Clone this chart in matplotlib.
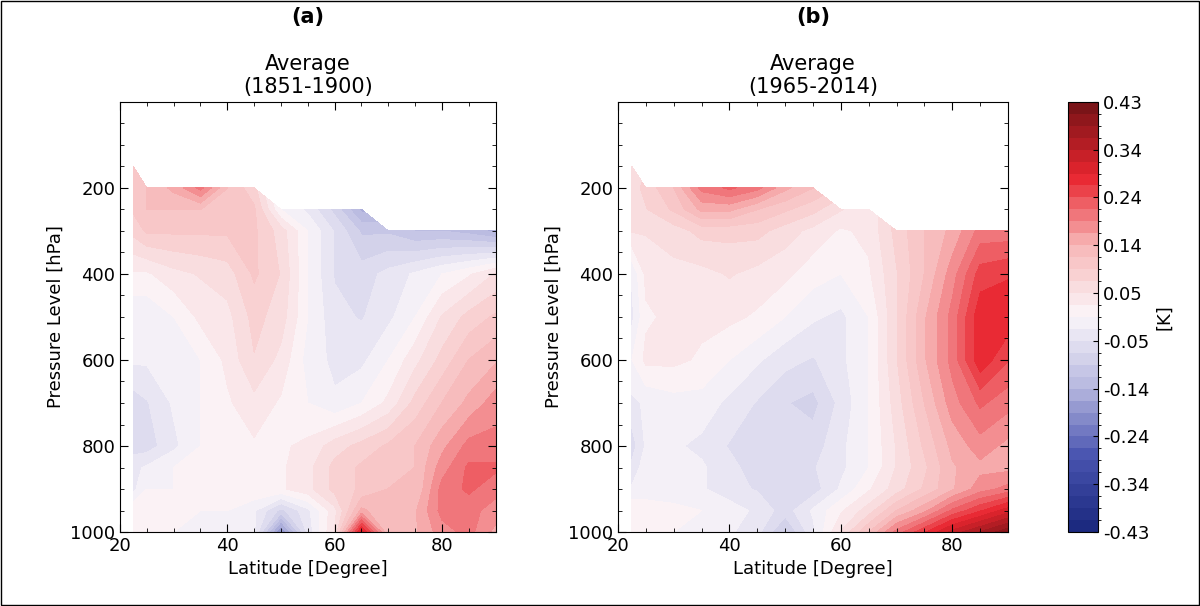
import numpy as np
import matplotlib.pyplot as plt
from matplotlib.colors import LinearSegmentedColormap, BoundaryNorm
from matplotlib.patches import Rectangle

nan = np.nan
lats = [22.5, 25, 30, 35, 40, 45, 50, 55, 60, 65, 70, 75, 80, 85, 90]
levels_p = [1000, 950, 900, 850, 800, 700, 600, 500, 400, 300, 250, 200, 150]

# panel (a) 1851-1900, rows follow levels_p
avg_a = [
    [0.0, 0.0, 0.0, -0.02, 0.0, -0.02, -0.2, -0.04, 0.05, 0.3, 0.12, 0.14, 0.18, 0.2, 0.16],
    [0.02, 0.02, 0.02, 0.0, 0.0, -0.02, -0.08, -0.03, 0.04, 0.15, 0.12, 0.14, 0.2, 0.2, 0.18],
    [-0.03, 0.0, 0.0, 0.02, 0.02, 0.02, 0.02, 0.04, 0.08, 0.1, 0.12, 0.12, 0.2, 0.22, 0.2],
    [-0.03, -0.02, 0.0, 0.02, 0.02, 0.02, 0.02, 0.04, 0.08, 0.1, 0.1, 0.12, 0.18, 0.22, 0.22],
    [-0.06, -0.06, -0.03, 0.0, 0.02, 0.02, 0.02, 0.03, 0.06, 0.08, 0.1, 0.12, 0.16, 0.2, 0.2],
    [-0.06, -0.05, -0.02, 0.0, 0.02, 0.04, 0.02, 0.0, -0.02, 0.0, 0.03, 0.08, 0.12, 0.15, 0.18],
    [-0.02, -0.02, -0.02, 0.0, 0.03, 0.07, 0.04, -0.01, -0.03, -0.03, 0.0, 0.04, 0.08, 0.12, 0.14],
    [-0.02, -0.02, 0.0, 0.03, 0.04, 0.08, 0.06, 0.0, -0.04, -0.05, -0.03, 0.0, 0.05, 0.08, 0.1],
    [0.02, 0.02, 0.04, 0.05, 0.06, 0.1, 0.07, 0.0, -0.05, -0.06, -0.04, -0.02, 0.0, 0.02, 0.05],
    [0.08, 0.1, 0.1, 0.1, 0.1, 0.1, 0.06, 0.0, -0.05, -0.1, -0.1, -0.12, -0.12, -0.13, -0.15],
    [0.1, 0.12, 0.12, 0.12, 0.1, 0.1, 0.0, -0.03, -0.08, -0.15, nan, nan, nan, nan, nan],
    [0.1, 0.12, 0.15, 0.2, 0.12, 0.08, nan, nan, nan, nan, nan, nan, nan, nan, nan],
    [0.1, nan, nan, nan, nan, nan, nan, nan, nan, nan, nan, nan, nan, nan, nan],
]

# panel (b) 1965-2014
avg_b = [
    [0.0, 0.0, 0.0, -0.02, -0.02, -0.04, -0.1, -0.03, 0.05, 0.12, 0.2, 0.26, 0.32, 0.36, 0.4],
    [0.02, 0.02, 0.01, 0.0, -0.01, -0.03, -0.06, -0.02, 0.02, 0.06, 0.12, 0.16, 0.22, 0.26, 0.3],
    [-0.02, -0.02, -0.02, -0.02, -0.04, -0.05, -0.05, -0.06, -0.02, 0.02, 0.06, 0.1, 0.14, 0.18, 0.2],
    [-0.04, -0.01, -0.01, -0.02, -0.04, -0.06, -0.06, -0.05, -0.03, 0.0, 0.05, 0.09, 0.14, 0.16, 0.16],
    [-0.06, -0.02, -0.02, -0.03, -0.05, -0.06, -0.07, -0.06, -0.03, 0.0, 0.05, 0.1, 0.15, 0.18, 0.16],
    [-0.03, -0.02, -0.01, -0.01, -0.03, -0.05, -0.07, -0.08, -0.04, 0.0, 0.06, 0.12, 0.18, 0.22, 0.2],
    [0.0, 0.03, 0.03, 0.02, 0.0, -0.02, -0.04, -0.05, -0.03, 0.0, 0.07, 0.14, 0.2, 0.28, 0.24],
    [-0.03, 0.02, 0.03, 0.03, 0.03, 0.02, 0.0, -0.02, -0.03, 0.0, 0.07, 0.14, 0.2, 0.28, 0.28],
    [-0.02, 0.03, 0.04, 0.04, 0.05, 0.04, 0.03, 0.01, 0.0, 0.02, 0.07, 0.12, 0.18, 0.25, 0.26],
    [0.05, 0.05, 0.06, 0.08, 0.08, 0.08, 0.06, 0.04, 0.02, 0.03, 0.08, 0.12, 0.15, 0.2, 0.2],
    [0.06, 0.07, 0.1, 0.15, 0.15, 0.12, 0.1, 0.08, 0.05, 0.03, nan, nan, nan, nan, nan],
    [0.06, 0.08, 0.12, 0.2, 0.22, 0.2, 0.15, 0.12, nan, nan, nan, nan, nan, nan, nan],
    [0.05, nan, nan, nan, nan, nan, nan, nan, nan, nan, nan, nan, nan, nan, nan],
]

cbar_labels = ['-0.43', '-0.34', '-0.24', '-0.14', '-0.05', '0.05', '0.14', '0.24', '0.34', '0.43']

cmap = LinearSegmentedColormap.from_list(
    'bwr2', ['#1c2a80', '#4a55b0', '#b8b9e0', '#fbf7fa', '#f7b8b8', '#e8252f', '#7a1418'])
bounds = np.linspace(-0.43, 0.43, 37)
norm = BoundaryNorm(bounds, cmap.N)

fig = plt.figure(figsize=(12, 6.06), dpi=100)
ax1 = fig.add_axes([0.100, 0.122, 0.313, 0.710])
ax2 = fig.add_axes([0.515, 0.122, 0.325, 0.710])
cax = fig.add_axes([0.890, 0.122, 0.025, 0.710])

for ax, data, lab, period in [(ax1, avg_a, '(a)', '(1851-1900)'), (ax2, avg_b, '(b)', '(1965-2014)')]:
    z = np.ma.masked_invalid(np.array(data))
    cf = ax.contourf(lats, levels_p, z, levels=bounds, cmap=cmap, norm=norm)
    ax.set_xlim(20, 90)
    ax.set_ylim(1000, 0)
    ax.set_xticks([20, 40, 60, 80])
    ax.set_yticks([200, 400, 600, 800, 1000])
    ax.minorticks_on()
    ax.tick_params(which='both', direction='in', top=True, right=True, labelsize=13)
    ax.tick_params(which='major', length=6)
    ax.tick_params(which='minor', length=3)
    ax.set_xlabel('Latitude [Degree]', fontsize=13)
    ax.set_ylabel('Pressure Level [hPa]', fontsize=13)
    ax.set_title('Average\n' + period, fontsize=15, pad=6)
    ax.text(0.5, 1.175, lab, transform=ax.transAxes, ha='center', va='bottom',
            fontsize=15, fontweight='bold')

cb = fig.colorbar(cf, cax=cax, ticks=bounds[::4])
cb.ax.set_yticklabels(cbar_labels)
cb.ax.tick_params(labelsize=13, direction='in')
cb.set_label('[K]', fontsize=13)

# thin frame around the whole figure
fig.patches.append(Rectangle((0.001, 0.002), 0.998, 0.996, transform=fig.transFigure,
                             fill=False, edgecolor='black', linewidth=1))

fig.savefig('out.png', dpi=100)
